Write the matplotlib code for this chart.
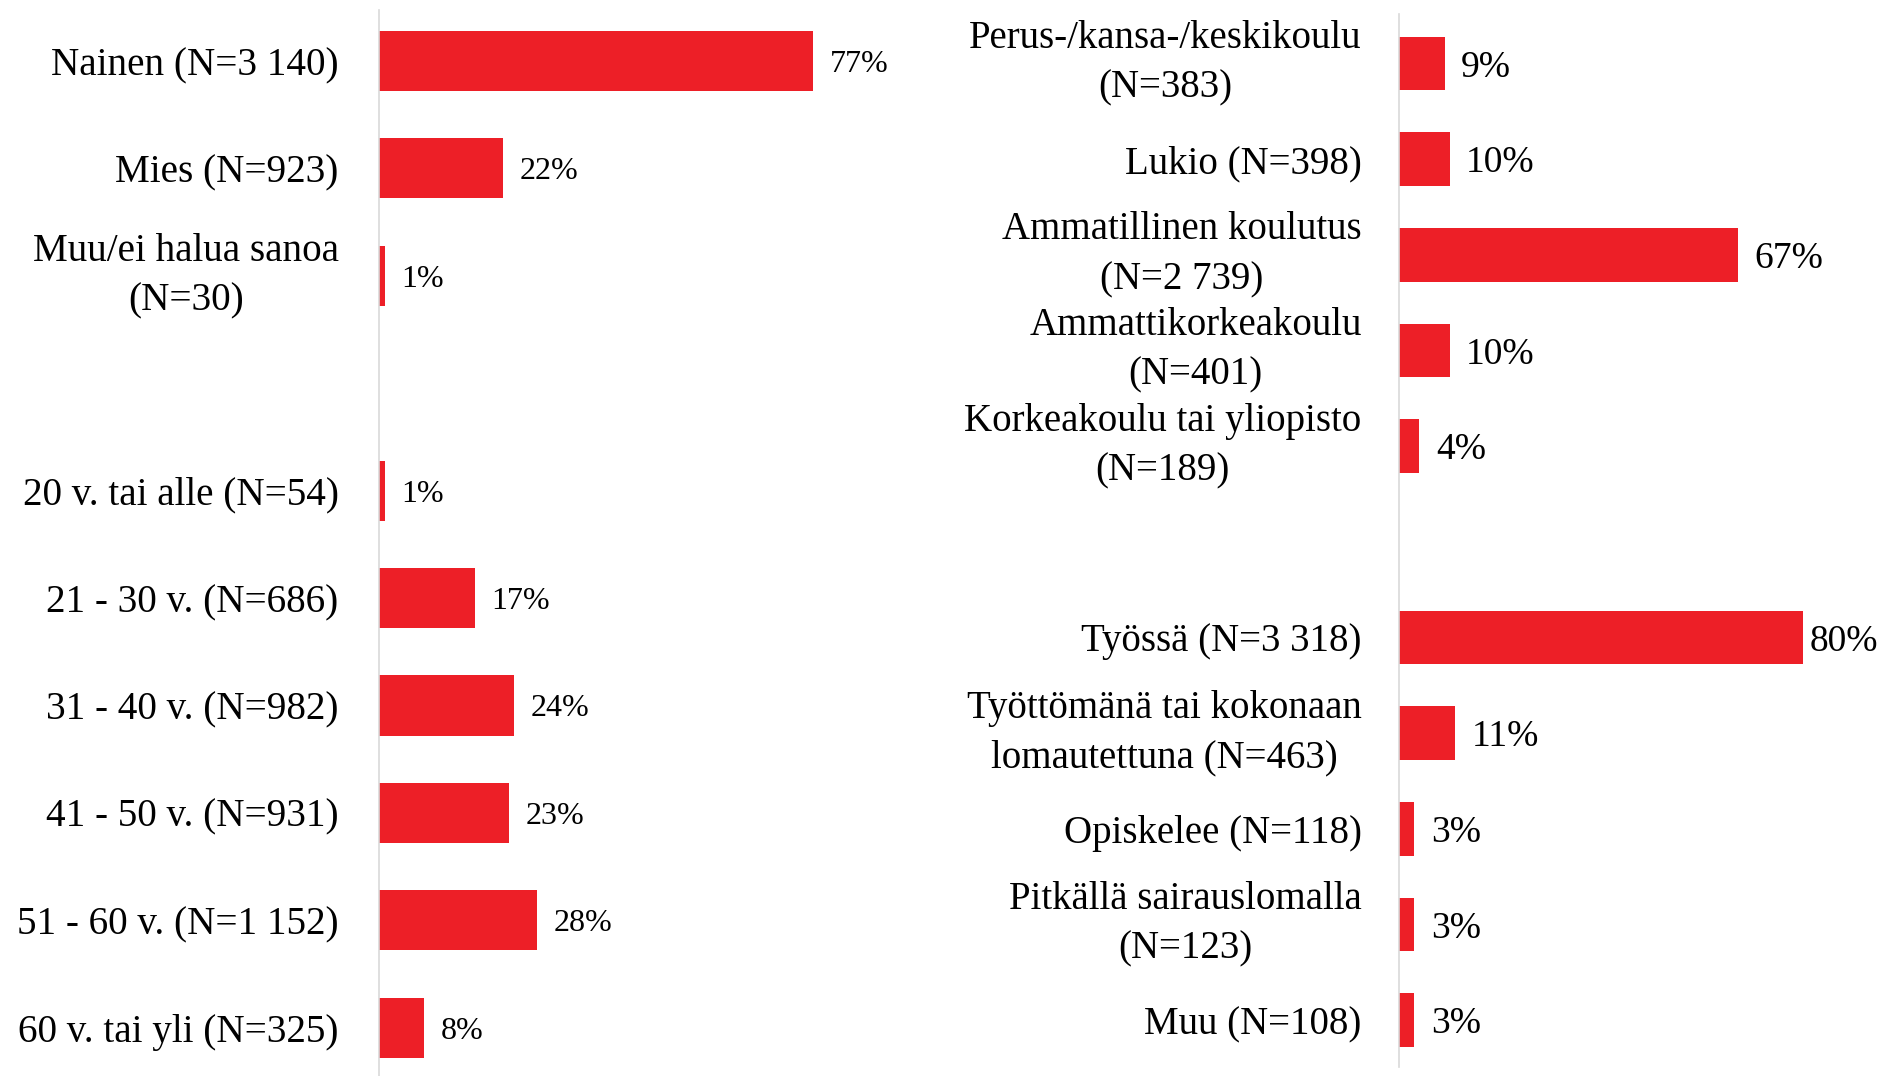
import matplotlib
matplotlib.use("Agg")
import matplotlib.pyplot as plt

# left panel: gender + age groups
gender_labels = ['Nainen (N=3 140)', 'Mies (N=923)', 'Muu/ei halua sanoa\n(N=30)']
gender_values = [77, 22, 1]
age_labels = ['20 v. tai alle (N=54)', '21 - 30 v. (N=686)', '31 - 40 v. (N=982)',
              '41 - 50 v. (N=931)', '51 - 60 v. (N=1 152)', '60 v. tai yli (N=325)']
age_values = [1, 17, 24, 23, 28, 8]

# right panel: education + work situation
edu_labels = ['Perus-/kansa-/keskikoulu\n(N=383)', 'Lukio (N=398)',
              'Ammatillinen koulutus\n(N=2 739)', 'Ammattikorkeakoulu\n(N=401)',
              'Korkeakoulu tai yliopisto\n(N=189)']
edu_values = [9, 10, 67, 10, 4]
work_labels = ['Työssä (N=3 318)', 'Työttömänä tai kokonaan\nlomautettuna (N=463)',
               'Opiskelee (N=118)', 'Pitkällä sairauslomalla\n(N=123)', 'Muu (N=108)']
work_values = [80, 11, 3, 3, 3]

RED = '#ED1F27'
W, H = 1880, 1076
plt.rcParams['font.family'] = ['Liberation Serif', 'DejaVu Serif']

fig = plt.figure(figsize=(W / 100, H / 100), dpi=100)


def panel(rect, groups, xmax, ylim, label_size, value_size, pad):
    ax = fig.add_axes(rect)
    pos, labels, vals = [], [], []
    y = 0
    for g_labels, g_vals in groups:
        for lab, v in zip(g_labels, g_vals):
            pos.append(y)
            labels.append(lab)
            vals.append(v)
            y += 1
        y += 1  # empty slot between groups
    ax.barh(pos, vals, height=0.56, color=RED)
    ax.set_xlim(0, xmax)
    ax.set_ylim(*ylim)
    ax.set_yticks(pos)
    ticks = ax.set_yticklabels(labels, fontsize=label_size, ha='right',
                               multialignment='center', linespacing=1.45)
    for t in ticks:
        if '\n' in t.get_text():
            t.set_va('center')
    ax.tick_params(axis='y', length=0, pad=pad)
    ax.set_xticks([])
    for s in ['top', 'right', 'bottom']:
        ax.spines[s].set_visible(False)
    ax.spines['left'].set_color('#d9d9d9')
    ax.spines['left'].set_linewidth(1.2)
    texts = []
    for p, v in zip(pos, vals):
        t = ax.annotate(f'{v}%', (v, p), xytext=(12, 0), textcoords='offset points',
                        va='center_baseline', ha='left', fontsize=value_size)
        texts.append(t)
    return ax, texts


axL, txL = panel([379 / W, 0, 564 / W, 1066 / H], [(gender_labels, gender_values), (age_labels, age_values)],
                 100, (9.45, -0.475), 28.2, 23, 29)
axR, txR = panel([1399 / W, 9 / H, 455 / W, 1053 / H], [(edu_labels, edu_values), (work_labels, work_values)],
                 90, (10.49, -0.517), 28, 27, 27)

# keep value labels inside the figure (80% sits tight against its bar)
fig.canvas.draw()
r = fig.canvas.get_renderer()
for t in txL + txR:
    bb = t.get_window_extent(r)
    if bb.x1 > W - 2:
        t.set_position((t.xyann[0] - (bb.x1 - (W - 2)) * 72 / 100, 0))

fig.savefig('out.png', dpi=100, facecolor='white')
